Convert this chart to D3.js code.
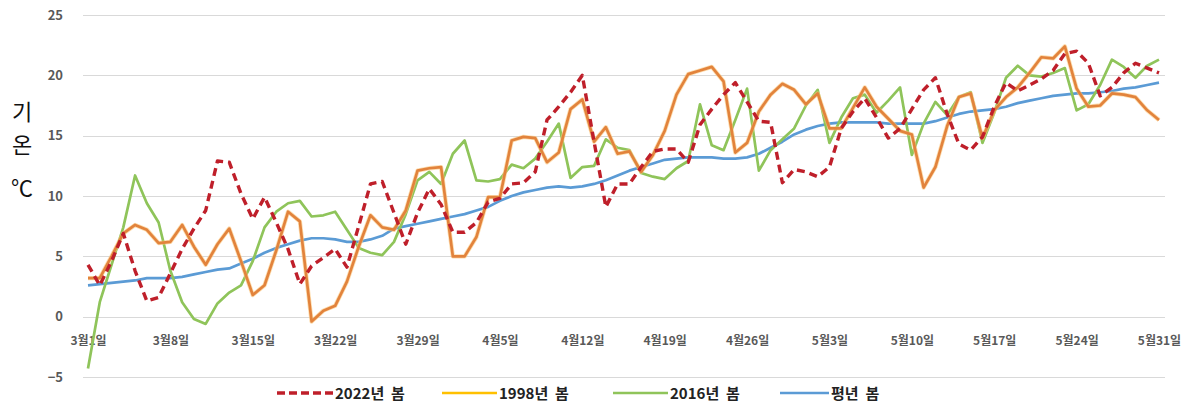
<!DOCTYPE html>
<html>
<head>
<meta charset="utf-8">
<script src="https://cdnjs.cloudflare.com/ajax/libs/d3/7.8.5/d3.min.js"></script>
<style>
	html, body { margin: 0; padding: 0; background: #fff; }
	svg { display: block; font-family: "Noto Sans CJK KR", "Noto Sans", sans-serif; }
</style>
</head>
<body>
<div id="container"></div>
<script>

// ==============
//	DATA
// ==============

// daily mean temperature, 3월1일 .. 5월31일 (92 days)
var y2022 = [4.3, 2.6, 4.6, 6.9, 3.8, 1.3, 1.6, 3.6, 5.6, 7.3,
	8.8, 12.9, 12.8, 10.2, 8.1, 9.9, 7.8, 5.6, 2.7, 4.2,
	4.9, 5.6, 4.1, 7.5, 11.0, 11.2, 8.6, 6.0, 8.6, 10.6,
	9.3, 7.0, 7.0, 7.8, 9.5, 9.8, 11.0, 11.1, 12.0, 16.3,
	17.4, 18.6, 20.0, 14.5, 9.1, 11.0, 11.0, 12.4, 13.7, 13.9,
	13.9, 12.8, 15.9, 17.2, 18.4, 19.4, 17.8, 16.2, 16.1, 11.1,
	12.2, 12.0, 11.6, 12.4, 15.6, 17.0, 18.1, 16.5, 14.8, 15.6,
	17.2, 18.8, 19.8, 16.8, 14.3, 13.8, 14.9, 17.4, 19.4, 18.7,
	19.2, 19.7, 20.4, 21.8, 22.0, 21.0, 18.3, 19.0, 20.2, 21.0,
	20.6, 20.2];

var y1998 = [3.2, 3.2, 5.0, 6.9, 7.6, 7.2, 6.1, 6.2, 7.6, 5.8,
	4.3, 6.0, 7.3, 4.6, 1.8, 2.6, 5.5, 8.7, 7.9, -0.4,
	0.5, 0.9, 2.9, 5.8, 8.4, 7.4, 7.2, 8.8, 12.1, 12.3,
	12.4, 5.0, 5.0, 6.6, 9.9, 9.9, 14.6, 14.9, 14.8, 12.8,
	13.6, 17.2, 18.0, 14.5, 15.7, 13.5, 13.7, 12.0, 13.4, 15.4,
	18.4, 20.1, 20.4, 20.7, 19.5, 13.6, 14.4, 17.0, 18.4, 19.3,
	18.8, 17.6, 18.5, 15.6, 15.6, 17.3, 19.0, 17.4, 16.4, 15.4,
	15.1, 10.7, 12.4, 15.8, 18.2, 18.5, 14.8, 17.1, 18.2, 19.0,
	20.2, 21.5, 21.4, 22.4, 18.9, 17.4, 17.5, 18.5, 18.4, 18.2,
	17.1, 16.3];

var y2016 = [-4.3, 1.2, 4.3, 7.4, 11.7, 9.4, 7.8, 3.8, 1.2, -0.2,
	-0.6, 1.1, 2.0, 2.6, 4.6, 7.4, 8.7, 9.4, 9.6, 8.3,
	8.4, 8.7, 7.2, 5.7, 5.3, 5.1, 6.2, 8.5, 11.3, 12.0,
	11.0, 13.5, 14.6, 11.3, 11.2, 11.4, 12.6, 12.3, 13.1, 14.5,
	16.0, 11.5, 12.4, 12.5, 14.7, 14.0, 13.8, 11.9, 11.6, 11.4,
	12.3, 12.9, 17.6, 14.2, 13.8, 16.3, 18.9, 12.1, 13.8, 14.7,
	15.6, 17.5, 18.8, 14.4, 16.5, 18.1, 18.4, 16.9, 17.9, 19.0,
	13.4, 16.0, 17.8, 16.7, 18.2, 18.6, 14.4, 16.9, 19.8, 20.8,
	20.0, 19.9, 20.2, 20.6, 17.1, 17.6, 19.2, 21.3, 20.7, 19.8,
	20.8, 21.3];

var yNormal = [2.6, 2.7, 2.8, 2.9, 3.0, 3.2, 3.2, 3.2, 3.3, 3.5,
	3.7, 3.9, 4.0, 4.4, 4.8, 5.3, 5.7, 6.0, 6.3, 6.5,
	6.5, 6.4, 6.2, 6.2, 6.4, 6.7, 7.3, 7.5, 7.7, 7.9,
	8.1, 8.3, 8.5, 8.8, 9.1, 9.6, 10.0, 10.3, 10.5, 10.7,
	10.8, 10.7, 10.8, 11.0, 11.3, 11.7, 12.1, 12.4, 12.7, 13.0,
	13.1, 13.2, 13.2, 13.2, 13.1, 13.1, 13.2, 13.5, 14.0, 14.5,
	15.1, 15.5, 15.8, 16.0, 16.1, 16.1, 16.1, 16.1, 16.0, 16.0,
	16.0, 16.0, 16.2, 16.5, 16.8, 17.0, 17.1, 17.2, 17.4, 17.7,
	17.9, 18.1, 18.3, 18.4, 18.5, 18.5, 18.6, 18.7, 18.9, 19.0,
	19.2, 19.4];

var seriesNames = ["2022년 봄", "1998년 봄", "2016년 봄", "평년 봄"];
var yTicks = [-5, 0, 5, 10, 15, 20, 25];

// ==============
//	OPTIONS
// ==============

var	W = 1195, H = 403,
	plot = {left: 83, right: 1165, top: 15, bottom: 377},
	colText = "#595959",
	colGrid = "#d9d9d9";

var series = [
	{name: seriesNames[3], values: yNormal, color: "#5b9bd5", width: 2.7},
	{name: seriesNames[2], values: y2016, color: "#8fc45a", width: 2.7},
	{name: seriesNames[1], values: y1998, color: "#e2833c", width: 2.7, halo: "#fbc77a"},
	{name: seriesNames[0], values: y2022, color: "#bf1f2a", width: 3.4, dash: "8,5"}
];

// ==============
//	DRAW
// ==============

var svg = d3.select("#container").append("svg")
	.attr("width", W)
	.attr("height", H);

var dates = d3.timeDay.range(new Date(2022, 2, 1), new Date(2022, 5, 1));

var x = d3.scaleTime()
	.domain([dates[0], dates[dates.length - 1]])
	.range([88, 1159]);

var y = d3.scaleLinear()
	.domain([-5, 25])
	.range([plot.bottom, plot.top]);

// === grid
svg.append("g")
	.selectAll("line")
	.data(yTicks)
	.join("line")
	.attr("x1", plot.left)
	.attr("x2", plot.right)
	.attr("y1", d => Math.round(y(d)) + 0.5)
	.attr("y2", d => Math.round(y(d)) + 0.5)
	.attr("stroke", colGrid)
	.attr("stroke-width", 1);

// === y axis labels
var yAxis = svg.append("g")
	.attr("transform", "translate(" + plot.left + ",0)")
	.call(d3.axisLeft(y).tickValues(yTicks).tickSize(0).tickPadding(20));
yAxis.select(".domain").remove();
yAxis.selectAll("text")
	.style("font", "bold 13px 'Noto Sans CJK KR', sans-serif")
	.attr("fill", colText);

// === x axis labels (weekly)
var weekly = dates.filter((d, i) => i % 7 === 0);
var xAxis = svg.append("g")
	.attr("transform", "translate(0," + y(0) + ")")
	.call(d3.axisBottom(x)
		.tickValues(weekly)
		.tickSize(0)
		.tickPadding(20)
		.tickFormat(d => (d.getMonth() + 1) + "월" + d.getDate() + "일"));
xAxis.select(".domain").remove();
xAxis.selectAll("text")
	.style("font", "bold 12px 'Noto Sans CJK KR', sans-serif")
	.attr("fill", colText);

// === y title, stacked
svg.append("g")
	.style("font", "22px 'Noto Sans CJK KR', sans-serif")
	.attr("fill", "#111")
	.attr("text-anchor", "middle")
	.selectAll("text")
	.data(["기", "온", "℃"])
	.join("text")
	.attr("x", 22)
	.attr("y", (d, i) => [120, 153, 196][i])
	.text(d => d);

// === lines
var line = d3.line()
	.x((d, i) => x(dates[i]))
	.y(d => y(d));

series.forEach(function(s) {
	if (s.halo) {
		svg.append("path")
			.attr("d", line(s.values))
			.attr("fill", "none")
			.attr("stroke", s.halo)
			.attr("stroke-width", s.width + 1.6)
			.attr("stroke-linejoin", "round")
			.attr("opacity", 0.6);
	}
	svg.append("path")
		.attr("d", line(s.values))
		.attr("fill", "none")
		.attr("stroke", s.color)
		.attr("stroke-width", s.width)
		.attr("stroke-linejoin", "round")
		.attr("stroke-dasharray", s.dash || null);
});

// === legend
var legendItems = [
	{name: seriesNames[0], color: "#bf1f2a", dash: "8,4", x0: 277, x1: 333},
	{name: seriesNames[1], color: "#ffc000", x0: 442, x1: 497},
	{name: seriesNames[2], color: "#8fc45a", x0: 613, x1: 668},
	{name: seriesNames[3], color: "#5b9bd5", x0: 780, x1: 829}
];

var legend = svg.append("g");
legend.selectAll("line")
	.data(legendItems)
	.join("line")
	.attr("x1", d => d.x0)
	.attr("x2", d => d.x1)
	.attr("y1", 393)
	.attr("y2", 393)
	.attr("stroke", d => d.color)
	.attr("stroke-width", d => d.dash ? 3.4 : 2.7)
	.attr("stroke-dasharray", d => d.dash || null);

legend.selectAll("text")
	.data(legendItems)
	.join("text")
	.attr("x", d => d.x1 + 2)
	.attr("y", 399)
	.style("font", "bold 15px 'Noto Sans CJK KR', sans-serif")
	.attr("fill", "#222")
	.text(d => d.name.replace(" ", "  "))
	.attr("xml:space", "preserve");

</script>
</body>
</html>
